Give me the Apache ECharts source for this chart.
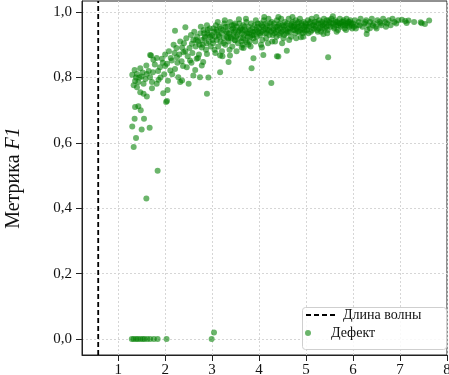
<!DOCTYPE html>
<html>
<head>
<meta charset="utf-8">
<script src="https://cdn.jsdelivr.net/npm/echarts@6/dist/echarts.min.js"></script>
<style>
html,body{margin:0;padding:0;background:#fff;}
#chart{width:449px;height:375px;}
</style>
</head>
<body>
<div id="chart"></div>
<script>
// ---- data ----
const xTicks = [1, 2, 3, 4, 5, 6, 7, 8];
const yTicks = [0, 0.2, 0.4, 0.6, 0.8, 1.0];
const waveLength = 0.575;
const seriesNames = ['Длина волны', 'Дефект'];

const zeroRow = [[1.29,0],[1.33,0],[1.38,0],[1.42,0],[1.47,0],[1.52,0],[1.56,0],[1.62,0],[1.68,0],[1.76,0],[1.84,0],[2.03,0],[2.99,0],[3.04,0.02]];

const lowTail = [[1.60,0.43],[1.84,0.515],[1.33,0.587],[1.38,0.615],[1.30,0.65],[1.50,0.641],[1.67,0.646],[1.35,0.674],[1.55,0.674],[1.36,0.71],[1.43,0.712],[1.48,0.70],[2.02,0.725],[2.04,0.728],[1.61,0.742],[1.54,0.75],[1.47,0.755],[1.96,0.752],[2.05,0.762],[1.72,0.767],[2.89,0.75],[4.26,0.783],[1.33,0.776],[1.40,0.770],[1.36,0.789],[1.43,0.786],[1.54,0.781],[1.72,0.786],[1.82,0.781],[1.86,0.793],[2.50,0.781],[2.32,0.786],[2.36,0.791]];

const risingPart = [[1.30,0.808],[1.35,0.823],[1.40,0.811],[1.47,0.828],[1.50,0.803],[1.60,0.837],[1.61,0.811],[1.68,0.801],[1.74,0.816],[1.70,0.867],[1.68,0.869],[1.75,0.854],[1.93,0.857],[1.89,0.831],[2.04,0.842],[2.11,0.821],[2.21,0.826],[2.28,0.801],[2.60,0.806],[2.74,0.801],[2.64,0.823],[2.14,0.852],[2.25,0.862],[2.39,0.877],[2.53,0.852],[2.46,0.831],[2.67,0.857],[2.78,0.837],[2.36,0.892],[2.57,0.903],[2.78,0.892],[2.89,0.872],[2.81,0.847],[2.92,0.80],[3.17,0.816],[3.35,0.847],[3.38,0.867],[3.17,0.867],[3.84,0.828],[3.88,0.859],[4.09,0.869],[4.06,0.892],[4.41,0.864],[4.59,0.882],[5.47,0.862],[4.38,0.865],[3.63,0.892],[3.49,0.913],[3.74,0.907],[4.89,0.923],[5.16,0.918],[5.37,0.933],[6.29,0.933],[6.36,0.951],
[1.95,0.845],[2.0,0.87],[2.08,0.88],[2.12,0.86],[2.18,0.90],[2.2,0.875],[2.24,0.89],[2.3,0.87],[2.32,0.91],[2.35,0.85],[2.4,0.905],[2.43,0.88],[2.45,0.92],[2.48,0.865],[2.21,0.943],[2.43,0.954],[2.89,0.960],[2.52,0.89],[2.55,0.93],[2.58,0.875],[2.6,0.915],[2.62,0.94],[2.65,0.895],[2.68,0.925],[2.7,0.91],[2.72,0.87],[2.75,0.935],[2.78,0.915],[2.8,0.9],[2.82,0.945],[2.85,0.925],[2.87,0.885],[2.9,0.935],[2.93,0.91],[2.95,0.95],[2.97,0.895],[1.85,0.82],[1.9,0.80],[1.98,0.81],[2.06,0.79],[1.78,0.84],[1.82,0.86],[1.65,0.82],[1.58,0.795],[1.45,0.80],[1.52,0.815],[1.38,0.80],[2.15,0.81],[2.0,0.835],[2.26,0.845],[2.38,0.835],[2.56,0.845],[2.7,0.86]];

const band3to4 = [[3.00,0.93],[3.02,0.905],[3.03,0.95],[3.05,0.885],[3.06,0.925],[3.08,0.96],[3.1,0.915],[3.11,0.94],[3.13,0.895],[3.14,0.93],[3.16,0.955],[3.18,0.91],[3.2,0.935],[3.21,0.88],[3.23,0.945],[3.25,0.92],[3.26,0.965],[3.28,0.9],[3.3,0.94],[3.31,0.925],[3.33,0.955],[3.35,0.91],[3.36,0.935],[3.38,0.97],[3.4,0.92],[3.41,0.945],[3.43,0.895],[3.45,0.93],[3.46,0.96],[3.48,0.915],[3.5,0.945],[3.51,0.925],[3.53,0.955],[3.55,0.905],[3.56,0.94],[3.58,0.965],[3.6,0.92],[3.61,0.95],[3.63,0.935],[3.65,0.9],[3.66,0.96],[3.68,0.93],[3.7,0.945],[3.71,0.915],[3.73,0.97],[3.75,0.94],[3.76,0.925],[3.78,0.955],[3.8,0.91],[3.81,0.945],[3.83,0.965],[3.85,0.93],[3.86,0.95],[3.88,0.92],[3.9,0.96],[3.91,0.94],[3.93,0.975],[3.95,0.925],[3.96,0.955],[3.98,0.94],
[3.07,0.875],[3.22,0.865],[3.37,0.885],[3.52,0.88],[3.67,0.89],[3.82,0.895],[3.12,0.97],[3.27,0.975],[3.57,0.978],[3.72,0.98],[3.44,0.95],[3.62,0.91],[3.77,0.9],[3.92,0.91],[3.04,0.94],[3.19,0.95],[3.34,0.92],[3.49,0.965],[3.64,0.945],[3.79,0.935],[3.94,0.945]];

const band4to5 = [[4.0,0.95],[4.02,0.93],[4.03,0.965],[4.05,0.94],[4.07,0.915],[4.08,0.955],[4.1,0.975],[4.12,0.935],[4.13,0.95],[4.15,0.92],[4.17,0.96],[4.18,0.945],[4.2,0.98],[4.22,0.93],[4.23,0.955],[4.25,0.94],[4.27,0.97],[4.28,0.91],[4.3,0.95],[4.32,0.965],[4.33,0.935],[4.35,0.955],[4.37,0.925],[4.38,0.975],[4.4,0.945],[4.42,0.96],[4.43,0.93],[4.45,0.95],[4.47,0.98],[4.48,0.94],[4.5,0.96],[4.52,0.92],[4.53,0.955],[4.55,0.97],[4.57,0.945],[4.58,0.935],[4.6,0.965],[4.62,0.95],[4.63,0.98],[4.65,0.94],[4.67,0.96],[4.68,0.925],[4.7,0.955],[4.72,0.97],[4.73,0.945],[4.75,0.96],[4.77,0.935],[4.78,0.975],[4.8,0.95],[4.82,0.965],[4.83,0.94],[4.85,0.955],[4.87,0.98],[4.88,0.945],[4.9,0.965],[4.92,0.95],[4.93,0.935],[4.95,0.97],[4.97,0.955],[4.98,0.94],
[4.04,0.9],[4.19,0.905],[4.34,0.91],[4.49,0.905],[4.64,0.915],[4.79,0.92],[4.94,0.925],[4.11,0.985],[4.41,0.985],[4.71,0.985]];

const band5to6 = [[5.0,0.96],[5.02,0.945],[5.04,0.975],[5.06,0.955],[5.08,0.965],[5.1,0.94],[5.12,0.98],[5.14,0.96],[5.16,0.95],[5.18,0.97],[5.2,0.955],[5.22,0.985],[5.24,0.945],[5.26,0.965],[5.28,0.975],[5.3,0.955],[5.32,0.94],[5.34,0.97],[5.36,0.96],[5.38,0.98],[5.4,0.95],[5.42,0.965],[5.44,0.975],[5.46,0.945],[5.48,0.96],[5.5,0.97],[5.52,0.955],[5.54,0.98],[5.57,0.987],[5.58,0.965],[5.6,0.95],[5.62,0.975],[5.64,0.96],[5.66,0.97],[5.68,0.945],[5.7,0.965],[5.72,0.98],[5.74,0.955],[5.76,0.97],[5.78,0.96],[5.8,0.975],[5.82,0.95],[5.84,0.965],[5.86,0.98],[5.88,0.96],[5.9,0.97],[5.92,0.955],[5.94,0.975],[5.96,0.965],[5.98,0.95],
[5.05,0.935],[5.25,0.94],[5.45,0.935],[5.65,0.94],[5.85,0.945]];

const bandTail = [[6.0,0.965],[6.04,0.975],[6.08,0.96],[6.12,0.97],[6.16,0.98],[6.2,0.955],[6.24,0.965],[6.28,0.975],[6.32,0.96],[6.36,0.97],[6.4,0.98],[6.44,0.965],[6.48,0.955],[6.52,0.975],[6.56,0.97],[6.6,0.96],[6.64,0.98],[6.68,0.97],[6.72,0.965],[6.76,0.975],[6.8,0.96],[6.84,0.98],[6.88,0.97],[6.92,0.965],[6.96,0.975],[6.06,0.95],[6.3,0.945],[6.5,0.95],[6.7,0.955],
[7.04,0.977],[7.18,0.974],[7.14,0.967],[7.11,0.973],[7.44,0.969],[7.62,0.974],[7.53,0.964],[7.46,0.966],[7.3,0.97]];

const bandCore = [[2.84,0.92],[2.88,0.905],[2.91,0.945],[2.96,0.925],[3.01,0.915],[3.09,0.945],[3.15,0.925],[3.24,0.905],[3.29,0.955],[3.32,0.935],[3.39,0.925],[3.42,0.96],[3.47,0.94],[3.54,0.93],[3.59,0.945],[3.66,0.92],[3.69,0.955],[3.74,0.935],[3.81,0.925],[3.87,0.94],[3.89,0.93],[3.97,0.965],[4.01,0.935],[4.06,0.96],[4.09,0.945],[4.14,0.965],[4.16,0.935],[4.21,0.945],[4.24,0.965],[4.29,0.93],[4.31,0.945],[4.36,0.94],[4.39,0.955],[4.44,0.965],[4.46,0.935],[4.51,0.945],[4.54,0.93],[4.56,0.96],[4.61,0.94],[4.66,0.95],[4.69,0.965],[4.74,0.955],[4.76,0.945],[4.81,0.955],[4.84,0.97],[4.86,0.94],[4.91,0.96],[4.96,0.945],[4.99,0.965],[5.03,0.955],[5.09,0.97],[5.13,0.945],[5.17,0.96],[5.21,0.97],[5.27,0.95],[5.31,0.965],[5.35,0.95],[5.39,0.965],[5.43,0.955],[5.49,0.975],[5.53,0.965],[5.59,0.955],[5.63,0.97],[5.69,0.96],[5.73,0.965],[5.79,0.97],[5.83,0.96],[5.89,0.965],[5.93,0.97],[5.97,0.96],[6.02,0.955],[6.14,0.96],[6.26,0.97],[6.42,0.96],[6.58,0.965],[2.66,0.915],[2.73,0.9],[2.76,0.955],[2.83,0.935],[2.94,0.93]];

const defectPoints = [].concat(zeroRow, lowTail, risingPart, band3to4, band4to5, band5to6, bandTail, bandCore);

// ---- chart ----
const serif = 'Liberation Serif';
const chart = echarts.init(document.getElementById('chart'), null, {renderer: 'canvas'});
const fmtY = v => v.toFixed(1).replace('.', ',');

chart.setOption({
  animation: false,
  backgroundColor: '#fff',
  textStyle: {fontFamily: serif},
  grid: {left: 82, right: 2, top: 1, bottom: 20, outerBoundsMode: 'none', containLabel: false, show: true, borderColor: '#222', borderWidth: 1, backgroundColor: 'transparent'},
  xAxis: {
    type: 'value', min: 0.23, max: 8,
    axisLine: {show: true, onZero: false, lineStyle: {color: '#222', width: 1}},
    axisTick: {show: true, customValues: xTicks, length: 6, lineStyle: {color: '#222'}},
    axisLabel: {customValues: xTicks, margin: 8, fontFamily: serif, fontSize: 15, color: '#111', hideOverlap: false},
    splitLine: {show: true, lineStyle: {color: '#d6d6d6', type: [2, 2], width: 1}}
  },
  yAxis: {
    type: 'value', min: -0.049, max: 1.034,
    name: '{n|Метрика }{i|F1}',
    nameLocation: 'middle', nameRotate: 90, nameGap: 58,
    nameTextStyle: {
      fontFamily: serif, fontSize: 20, color: '#111',
      rich: {
        n: {fontFamily: serif, fontSize: 20, color: '#111'},
        i: {fontFamily: serif, fontSize: 20, color: '#111', fontStyle: 'italic'}
      }
    },
    axisLine: {show: true, onZero: false, lineStyle: {color: '#222', width: 1}},
    axisTick: {show: true, customValues: yTicks, length: 6, lineStyle: {color: '#222'}},
    axisLabel: {customValues: yTicks, margin: 10, fontFamily: serif, fontSize: 15, color: '#111', formatter: fmtY},
    splitLine: {show: true, lineStyle: {color: '#d6d6d6', type: [2, 2], width: 1}}
  },
  graphic: [{
    type: 'rect', left: 302, top: 307, z: 5,
    shape: {width: 144, height: 42, r: 3},
    style: {fill: 'rgba(255,255,255,0.85)', stroke: '#cfcfcf', lineWidth: 1}
  }],
  legend: [{
    data: [{name: seriesNames[0], itemStyle: {color: 'rgba(0,0,0,0)', borderWidth: 0}}],
    left: 305, top: 308, z: 10,
    itemWidth: 30, itemHeight: 14, padding: 0,
    textStyle: {fontFamily: serif, fontSize: 14, color: '#111', padding: [0,0,0,2]}
  }, {
    data: [{name: seriesNames[1], icon: 'circle'}], left: 305, top: 326, z: 10,
    itemWidth: 30, itemHeight: 6, padding: 0,
    textStyle: {fontFamily: serif, fontSize: 14, color: '#111', padding: [0,0,0,3]}
  }],
  series: [{
    name: seriesNames[0], type: 'line', symbol: 'none', silent: true, z: 3,
    data: [[waveLength, -0.049], [waveLength, 1.034]],
    lineStyle: {color: '#000', width: 1.8, type: [5, 3]},
    itemStyle: {color: '#000'}
  }, {
    name: seriesNames[1], type: 'scatter', symbolSize: 6, z: 2,
    data: defectPoints,
    itemStyle: {color: 'rgb(0,128,0)', opacity: 0.58}
  }]
});
</script>
</body>
</html>
